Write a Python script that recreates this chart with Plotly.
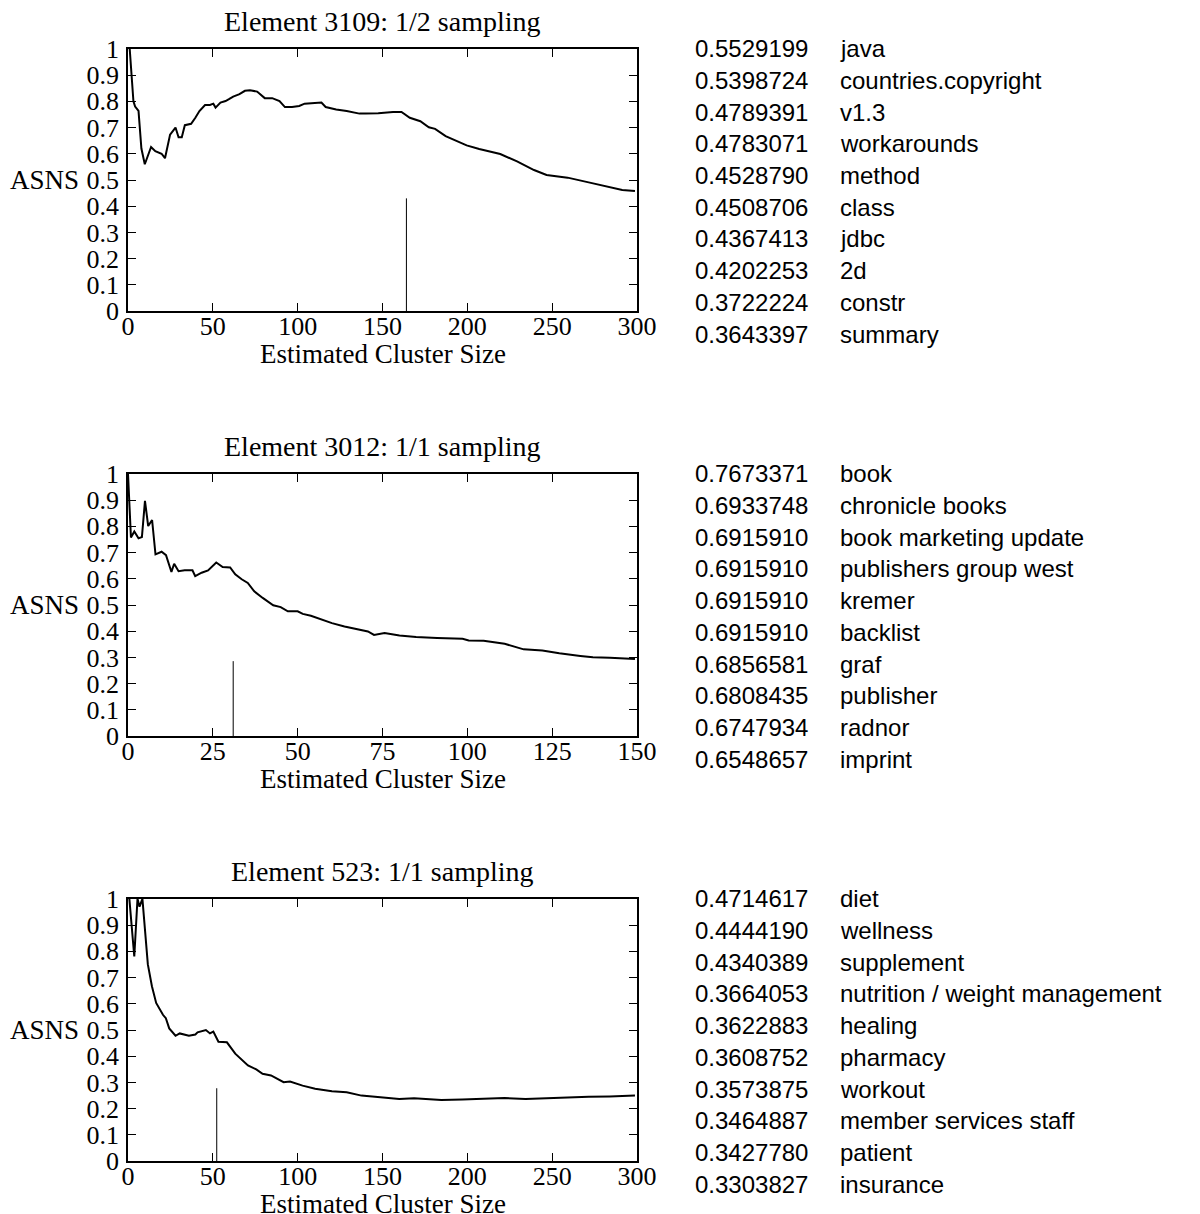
import plotly.graph_objects as go

# ---------------- data ----------------
titles = ["Element 3109: 1/2 sampling", "Element 3012: 1/1 sampling", "Element 523: 1/1 sampling"]
x_max = [300, 150, 300]
x_dtick = [50, 25, 50]
x_title = "Estimated Cluster Size"
y_title = "ASNS"

x1 = [1.0, 1.3, 3.2, 4.2, 6.2, 7.9, 9.9, 13.6, 16.1, 19.8, 21.8, 24.8, 28, 29.8, 31.7, 33.5, 37.2, 39.7,
      42.1, 45.4, 48.3, 50.3, 51.6, 54.5, 57.5, 59.5, 62, 65.7, 68.9, 71.9, 76.1, 80.6, 85, 89.3, 92.5,
      96.7, 100.9, 104.1, 109.1, 114, 116.5, 122.7, 128.9, 136.4, 140, 147.5, 156.2, 161.2, 166.1,
      172.3, 177.3, 181, 187.2, 193.4, 199.6, 207, 219.4, 229.3, 239.3, 246.7, 259.1, 271.5, 283.9,
      291.3, 298.8]
y1 = [1.0, 0.97, 0.80, 0.78, 0.763, 0.62, 0.56, 0.626, 0.61, 0.60, 0.583, 0.673, 0.70, 0.663, 0.663,
      0.709, 0.714, 0.737, 0.763, 0.786, 0.786, 0.791, 0.776, 0.795, 0.801, 0.808, 0.818, 0.827, 0.84,
      0.842, 0.837, 0.812, 0.812, 0.801, 0.778, 0.778, 0.782, 0.791, 0.794, 0.795, 0.778, 0.769, 0.763,
      0.753, 0.753, 0.754, 0.759, 0.759, 0.737, 0.724, 0.701, 0.695, 0.667, 0.65, 0.632, 0.618, 0.599,
      0.571, 0.538, 0.519, 0.509, 0.491, 0.474, 0.462, 0.458]

x2 = [0, 0.87, 1.86, 3.1, 4.1, 5, 5.95, 7.1, 8.1, 9.9, 11.2, 12.8, 13.6, 14.9, 16.7, 19, 19.8, 21.7, 23.6,
      26, 27.9, 30.1, 31.6, 33.5, 35.3, 37.2, 39.7, 42.8, 45, 47.1, 50, 51.5, 53.9, 56.4, 60.1, 63.8, 67.6,
      70.7, 72.5, 75.6, 80, 84.9, 91.1, 98.6, 100.4, 104.8, 111, 116.6, 122.1, 127.1, 133.3, 137, 142, 149.4]
y2 = [1.0, 0.757, 0.78, 0.754, 0.759, 0.897, 0.801, 0.824, 0.693, 0.703, 0.69, 0.626, 0.657, 0.629, 0.632,
      0.632, 0.61, 0.623, 0.632, 0.662, 0.645, 0.643, 0.617, 0.598, 0.584, 0.552, 0.527, 0.499, 0.492,
      0.476, 0.476, 0.466, 0.459, 0.447, 0.431, 0.418, 0.409, 0.399, 0.386, 0.393, 0.384, 0.378, 0.374,
      0.371, 0.365, 0.364, 0.352, 0.331, 0.327, 0.316, 0.306, 0.301, 0.299, 0.294]

x3 = [0.8, 2, 3.7, 5.6, 6.8, 8.5, 9.9, 11.7, 14.1, 16.6, 20.6, 22.3, 24.3, 28, 30.5, 35.9, 39.7, 41, 45.9,
      48.3, 50.3, 53.3, 58.3, 63.2, 70.7, 75.6, 79.3, 84.3, 91.7, 95.5, 102.9, 110.3, 120.2, 128.9, 137.6,
      147.5, 159.9, 168.6, 184.7, 197.1, 207, 221.9, 234.3, 246.7, 259.1, 271.5, 283.9, 298.8]
y3 = [1.0, 0.897, 0.78, 1.0, 0.97, 1.0, 0.891, 0.75, 0.667, 0.603, 0.558, 0.545, 0.506, 0.478, 0.487,
      0.478, 0.483, 0.491, 0.5, 0.487, 0.494, 0.455, 0.453, 0.41, 0.365, 0.35, 0.333, 0.327, 0.301, 0.304,
      0.288, 0.276, 0.267, 0.263, 0.25, 0.244, 0.237, 0.24, 0.233, 0.235, 0.237, 0.241, 0.237, 0.24, 0.244,
      0.246, 0.247, 0.25]

marker_x = [164.1, 31.0, 52.3]
marker_h = [0.43, 0.286, 0.278]

scores1 = ["0.5529199", "0.5398724", "0.4789391", "0.4783071", "0.4528790", "0.4508706", "0.4367413",
           "0.4202253", "0.3722224", "0.3643397"]
terms1 = ["java", "countries.copyright", "v1.3", "workarounds", "method", "class", "jdbc", "2d",
          "constr", "summary"]
scores2 = ["0.7673371", "0.6933748", "0.6915910", "0.6915910", "0.6915910", "0.6915910", "0.6856581",
           "0.6808435", "0.6747934", "0.6548657"]
terms2 = ["book", "chronicle books", "book marketing update", "publishers group west", "kremer",
          "backlist", "graf", "publisher", "radnor", "imprint"]
scores3 = ["0.4714617", "0.4444190", "0.4340389", "0.3664053", "0.3622883", "0.3608752", "0.3573875",
           "0.3464887", "0.3427780", "0.3303827"]
terms3 = ["diet", "wellness", "supplement", "nutrition / weight management", "healing", "pharmacy",
          "workout", "member services staff", "patient", "insurance"]

# ---------------- layout ----------------
W, H = 1200, 1214
xs = [x1, x2, x3]
ys = [y1, y2, y3]
scores = [scores1, scores2, scores3]
terms = [terms1, terms2, terms3]

plot_left, plot_right = 128, 637
plot_tops = [48.8, 473.8, 898.8]
plot_h = 262.4

SERIF = "Liberation Serif"
SANS = "Liberation Sans"

fig = go.Figure()
annotations = []
layout = dict(
    width=W, height=H,
    margin=dict(l=0, r=0, t=0, b=0, autoexpand=False),
    paper_bgcolor="white", plot_bgcolor="white",
    showlegend=False,
)

def px_x(p):
    return p / W

def px_y(p):
    return 1 - p / H

for i in range(3):
    sfx = "" if i == 0 else str(i + 1)
    xa, ya = "x" + sfx, "y" + sfx
    top = plot_tops[i]
    bot = top + plot_h
    fig.add_trace(go.Scatter(x=xs[i], y=ys[i], mode="lines", xaxis=xa, yaxis=ya,
                             line=dict(color="black", width=2), hoverinfo="skip"))
    fig.add_trace(go.Scatter(x=[marker_x[i], marker_x[i]], y=[0, marker_h[i]], mode="lines",
                             xaxis=xa, yaxis=ya, line=dict(color="black", width=1), hoverinfo="skip"))
    common = dict(showline=True, linecolor="black", linewidth=1.5, mirror="ticks",
                  ticks="inside", ticklen=8, tickwidth=1, tickcolor="black",
                  showgrid=False, zeroline=False, automargin=False,
                  tickfont=dict(family=SERIF, size=26, color="black"))
    layout["xaxis" + sfx] = dict(common, domain=[px_x(plot_left), px_x(plot_right)],
                                 range=[0, x_max[i]], dtick=x_dtick[i], tick0=0,
                                 anchor=ya, ticklabelstandoff=-9)
    layout["yaxis" + sfx] = dict(common, domain=[px_y(bot), px_y(top)], range=[0, 1],
                                 dtick=0.1, tick0=0, anchor=xa, ticklabelstandoff=2)
    # title
    annotations.append(dict(text=titles[i], x=px_x((plot_left + plot_right) / 2), y=px_y(top - 27),
                            xref="paper", yref="paper", showarrow=False, xanchor="center", yanchor="middle",
                            font=dict(family=SERIF, size=28, color="black")))
    # x axis title
    annotations.append(dict(text=x_title, x=px_x((plot_left + plot_right) / 2), y=px_y(bot + 43),
                            xref="paper", yref="paper", showarrow=False, xanchor="center", yanchor="middle",
                            font=dict(family=SERIF, size=27, color="black")))
    # y label
    annotations.append(dict(text=y_title, x=px_x(44), y=px_y(top + plot_h * 0.5),
                            xref="paper", yref="paper", showarrow=False, xanchor="center", yanchor="middle",
                            font=dict(family=SERIF, size=27, color="black")))
    # term list
    for k in range(len(scores[i])):
        yy = px_y(top + k * 31.7)
        annotations.append(dict(text=scores[i][k], x=px_x(693), y=yy, xref="paper", yref="paper",
                                showarrow=False, xanchor="left", yanchor="middle",
                                font=dict(family=SANS, size=24, color="black")))
        annotations.append(dict(text=terms[i][k], x=px_x(838), y=yy, xref="paper", yref="paper",
                                showarrow=False, xanchor="left", yanchor="middle",
                                font=dict(family=SANS, size=24, color="black")))

layout["annotations"] = annotations
fig.update_layout(**layout)
fig.write_html("out.html", config={"displayModeBar": False},
               post_script="document.body.style.margin='0px';document.body.style.padding='0px';")
